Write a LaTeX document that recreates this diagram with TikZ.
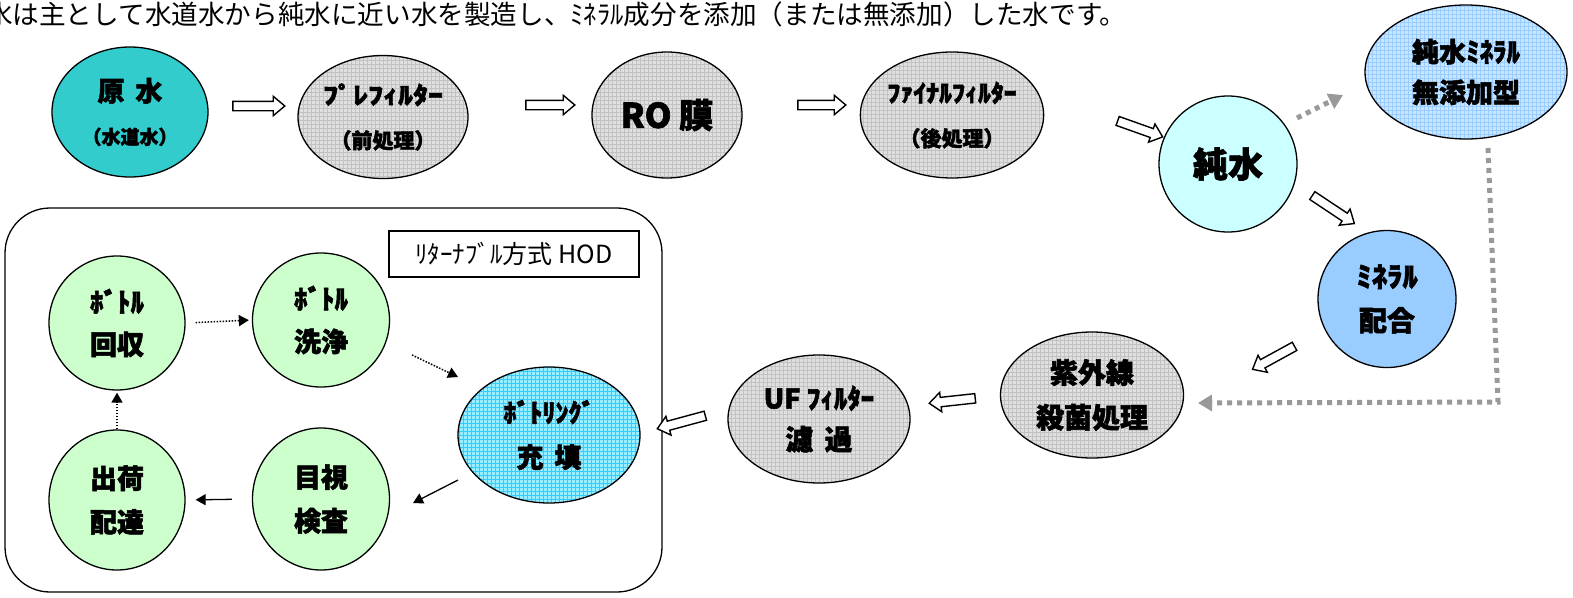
\documentclass[tikz,border=0pt]{standalone}
\usepackage{fontspec}
\newfontfamily\jp{Noto Sans CJK JP}[BoldFeatures={FakeBold=2}]
\usetikzlibrary{shapes.geometric,shapes.arrows,calc,arrows.meta}
\definecolor{teal1}{HTML}{33CCCC}
\definecolor{gfill}{HTML}{E0E0E0}
\definecolor{gline}{HTML}{C2C2C2}
\definecolor{cyan1}{HTML}{CCFFFF}
\definecolor{bfill}{HTML}{CCE5FF}
\definecolor{bline}{HTML}{99CCFF}
\definecolor{blue2}{HTML}{99CCFF}
\definecolor{green1}{HTML}{CCFFCC}
\definecolor{cfill}{HTML}{99EEFF}
\definecolor{cline}{HTML}{33CCFF}
\definecolor{dotgray}{HTML}{999999}
\newcommand\fsz[2]{\fontsize{#1}{#2}\selectfont}
\newcommand\wide[2]{\scalebox{#1}[1]{#2}}
\newcommand\gap{\hspace{0.4em}}
\newcommand\harrow[2]{\path let \p1=($(#2)-(#1)$), \n1={veclen(\x1,\y1)} in (#1) -- node[harr, minimum height=\n1] {} (#2);}
\tikzset{
  bub/.style={ellipse, draw=black, line width=1.3pt, inner sep=0pt, align=center, font=\jp\bfseries},
  gridded/.style 2 args={fill=#1, path picture={\draw[#2, line width=0.6pt, step=4pt] (path picture bounding box.south west) grid (path picture bounding box.north east);}},
  harr/.style={single arrow, draw=black, fill=white, line width=1.4pt, inner xsep=0pt, inner ysep=4pt, single arrow head extend=5pt, single arrow tip angle=80, sloped, allow upside down},
  gdot/.style={draw=dotgray, line width=5pt, dash pattern=on 5pt off 5pt, -{Triangle[length=14pt,width=16pt]}},
  bdot/.style={draw=black, line width=1.5pt, dash pattern=on 1.5pt off 1.5pt, -{Triangle[length=10pt,width=11pt]}},
  bsol/.style={draw=black, line width=1.3pt, -{Triangle[length=10pt,width=11pt]}},
}
\begin{document}
\begin{tikzpicture}[x=1pt,y=-1pt]
\useasboundingbox (0,0) rectangle (1573,597);
\fill[white] (0,0) rectangle (1573,597);
% intro text
\node[anchor=west, inner sep=0pt, font=\jp\fsz{26.6}{27}] (intro) at (-14,14) {水は主として水道水から純水に近い水を製造し、ﾐﾈﾗﾙ成分を添加（または無添加）した水です。};
% top row
\node[bub, fill=teal1, minimum width=156pt, minimum height=130pt] (gen) at (130,112) {\fsz{27}{27}原\gap 水\\[23pt]\fsz{19}{19}（水道水）};
\node[bub, gridded={gfill}{gline}, minimum width=170pt, minimum height=123pt] (pre) at (383,117) {\fsz{24}{24}\wide{1.25}{ﾌﾟﾚﾌｨﾙﾀｰ}\\[23pt]\fsz{21}{21}（前処理）};
\node[bub, gridded={gfill}{gline}, minimum width=150pt, minimum height=126pt] (ro) at (667,115) {\fsz{34}{34}RO 膜};
\node[bub, gridded={gfill}{gline}, minimum width=179pt, minimum height=126pt] (fin) at (952,115) {\fsz{24}{24}\wide{1.08}{ﾌｧｲﾅﾙﾌｨﾙﾀｰ}\\[23pt]\fsz{21}{21}（後処理）};
\node[bub, fill=cyan1, minimum width=138pt, minimum height=136pt] (jun) at (1228,164) {\fsz{35}{35}純水};
\node[bub, gridded={bfill}{bline}, minimum width=202pt, minimum height=134pt] (mu) at (1466,72) {\fsz{27}{27}純水ﾐﾈﾗﾙ\\[14pt]\fsz{27}{27}無添加型};
\node[bub, fill=blue2, minimum width=138pt, minimum height=137pt] (mix) at (1387,299) {\fsz{28}{28}\wide{1.1}{ﾐﾈﾗﾙ}\\[17pt]\fsz{28}{28}配合};
\node[bub, gridded={gfill}{gline}, minimum width=183pt, minimum height=126pt] (uv) at (1092,395) {\fsz{28}{28}紫外線\\[17pt]\fsz{28}{28}殺菌処理};
\node[bub, gridded={gfill}{gline}, minimum width=182pt, minimum height=128pt] (uf) at (819,419) {\fsz{27}{27}UF ﾌｨﾙﾀｰ\\[14pt]\fsz{28}{28}濾\gap 過};
% container
\node[draw=black, line width=1.3pt, rounded corners=45pt, minimum width=657pt, minimum height=384pt, inner sep=0pt] (hod) at (333.5,400) {};
\node[draw=black, line width=1.2pt, minimum width=250pt, minimum height=46pt, inner sep=0pt, font=\jp\fsz{25}{25}] (hodlabel) at (514,254) {ﾘﾀｰﾅﾌﾞﾙ方式 HOD};
\node[bub, fill=green1, minimum width=136pt, minimum height=134pt] (bk) at (117,323) {\fsz{27}{27}ﾎﾞﾄﾙ\\[17pt]\fsz{27}{27}回収};
\node[bub, fill=green1, minimum width=137pt, minimum height=134pt] (bw) at (321,320) {\fsz{27}{27}ﾎﾞﾄﾙ\\[17pt]\fsz{27}{27}洗浄};
\node[bub, fill=green1, minimum width=136pt, minimum height=140pt] (sk) at (117,500) {\fsz{27}{27}出荷\\[17pt]\fsz{27}{27}配達};
\node[bub, fill=green1, minimum width=137pt, minimum height=142pt] (mk) at (321,499) {\fsz{27}{27}目視\\[17pt]\fsz{27}{27}検査};
\node[bub, gridded={cfill}{cline}, minimum width=182pt, minimum height=136pt] (bf) at (549,435) {\fsz{26}{26}ﾎﾞﾄﾘﾝｸﾞ\\[19pt]\fsz{27}{27}充\gap 填};
% hollow arrows
\coordinate (a1s) at (230,106); \coordinate (a1e) at (282,106);
\coordinate (a2s) at (523,105); \coordinate (a2e) at (572,105);
\coordinate (a3s) at (795,105); \coordinate (a3e) at (843,105);
\coordinate (a4s) at (1115,120); \coordinate (a4e) at (1160,136);
\coordinate (a5s) at (1310,194); \coordinate (a5e) at (1352,222);
\coordinate (a6s) at (1297,345); \coordinate (a6e) at (1255,368);
\coordinate (a7s) at (978,398); \coordinate (a7e) at (932,403);
\coordinate (a8s) at (708,415); \coordinate (a8e) at (660,428);
\harrow{a1s}{a1e}
\harrow{a2s}{a2e}
\harrow{a3s}{a3e}
\harrow{a4s}{a4e}
\harrow{a5s}{a5e}
\harrow{a6s}{a6e}
\harrow{a7s}{a7e}
\harrow{a8s}{a8e}
% gray dotted
\coordinate (g1s) at (1297,118); \coordinate (g1e) at (1343,95);
\draw[gdot] (g1s) -- (g1e);
\coordinate (g2s) at (1488,148); \coordinate (g2m) at (1498,402); \coordinate (g2e) at (1198,403);
\draw[gdot] (g2s) -- (g2m) -- (g2e);
% cycle arrows
\draw[bdot, shorten <=10pt, shorten >=3pt] (bk.east) -- (bw.west);
\coordinate (c2s) at (412,355); \coordinate (c2e) at (458,377);
\draw[bdot] (c2s) -- (c2e);
\coordinate (c3s) at (458,480); \coordinate (c3e) at (413,503);
\draw[bsol] (c3s) -- (c3e);
\draw[bsol, shorten <=20pt, shorten >=10pt] (mk.west) -- (sk.east);
\draw[bdot, shorten >=2pt] (sk.north) -- (bk.south);
\end{tikzpicture}
\end{document}
